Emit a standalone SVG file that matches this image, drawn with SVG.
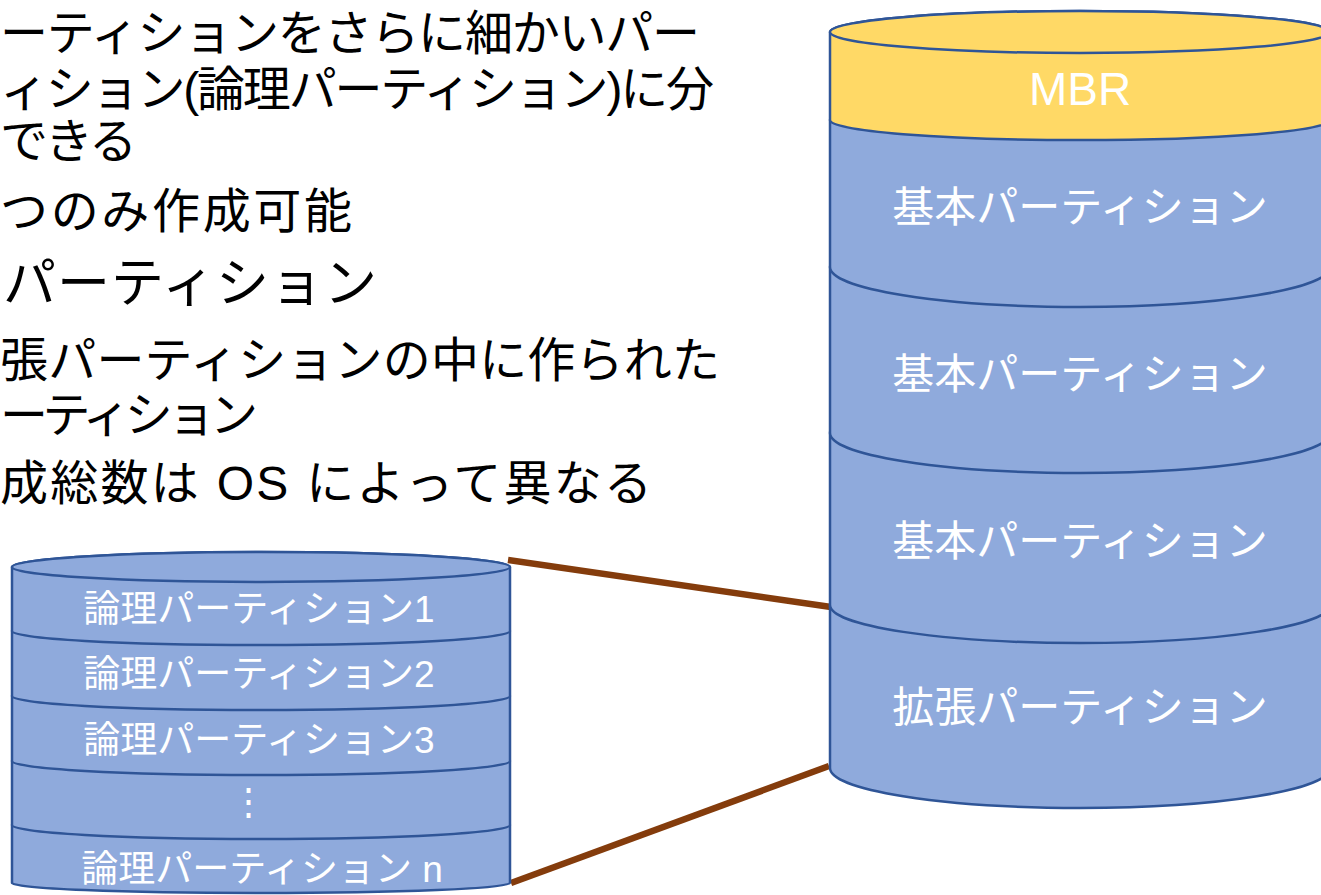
<svg xmlns="http://www.w3.org/2000/svg" width="1321" height="895" viewBox="0 0 1321 895">
<style>
.band{fill:#8FAADC;stroke:#2F5597;stroke-width:2.5;stroke-linejoin:round}
.mbr{fill:#FFD966;stroke:#2F5597;stroke-width:2.5}
.wt{fill:#FFFFFF;font-family:"Liberation Sans","Noto Sans CJK JP",sans-serif;text-anchor:middle}
.bt{fill:#000000;font-family:"Liberation Sans","Noto Sans CJK JP",sans-serif;font-size:48px}
.conn{stroke:#843C0C;stroke-width:6.5;fill:none}
</style>
<rect width="1321" height="895" fill="#FFFFFF"/>
<g id="bullets">
<text class="bt" x="0" y="50" textLength="700" lengthAdjust="spacing">ーティションをさらに細かいパー</text>
<text class="bt" x="0" y="106" textLength="714" lengthAdjust="spacing">ィション(論理パーティション)に分</text>
<text class="bt" x="0" y="158" textLength="137" lengthAdjust="spacing">できる</text>
<text class="bt" x="0" y="228" textLength="352" lengthAdjust="spacing">つのみ作成可能</text>
<text class="bt" x="3" y="302" style="font-size:53px" textLength="374" lengthAdjust="spacing">パーティション</text>
<text class="bt" x="0" y="377" textLength="720" lengthAdjust="spacing">張パーティションの中に作られた</text>
<text class="bt" x="0" y="432" textLength="258" lengthAdjust="spacing">ーティション</text>
<text class="bt" x="0" y="500" textLength="652" lengthAdjust="spacing">成総数は OS によって異なる</text>
</g>
<g id="connectors">
<line class="conn" x1="508" y1="560" x2="831" y2="607"/>
<line class="conn" x1="511" y1="883" x2="829" y2="766"/>
</g>
<g id="disk">
<g id="extended">
<path class="band" d="M830,605 L830,768 A250,40 0 0 0 1330,768 L1330,605 A250,40 0 0 0 830,605 Z"/>
<text class="wt" x="1080" y="722" font-size="42">拡張パーティション</text>
</g>
<g id="basic3">
<path class="band" d="M830,433 L830,605 A250,38 0 0 0 1330,605 L1330,433 A250,40 0 0 0 830,433 Z"/>
<text class="wt" x="1080" y="556" font-size="42">基本パーティション</text>
</g>
<g id="basic2">
<path class="band" d="M830,267 L830,433 A250,40 0 0 0 1330,433 L1330,267 A250,40 0 0 0 830,267 Z"/>
<text class="wt" x="1080" y="389" font-size="42">基本パーティション</text>
</g>
<g id="basic1">
<path class="band" d="M830,120 L830,267 A250,40 0 0 0 1330,267 L1330,120 A250,20 0 0 0 830,120 Z"/>
<text class="wt" x="1080" y="222" font-size="42">基本パーティション</text>
</g>
<g id="mbr">
<path class="mbr" d="M830,32 L830,120 A250,20 0 0 0 1330,120 L1330,32 A250,21 0 0 0 830,32 Z"/>
<ellipse class="mbr" cx="1080" cy="32" rx="250" ry="21"/>
<text class="wt" x="1080" y="105" font-size="46">MBR</text>
</g>
</g>
<g id="logical">
<g id="logical-n">
<path class="band" d="M12,825 L12,883 A249,10 0 0 0 510,883 L510,825 A249,14 0 0 0 12,825 Z"/>
<text class="wt" x="262" y="882" font-size="37">論理パーティション n</text>
</g>
<g id="logical-dots">
<path class="band" d="M12,761 L12,825 A249,14 0 0 0 510,825 L510,761 A249,14 0 0 0 12,761 Z"/>
<text class="wt" x="248" y="814" font-size="37" font-family="Noto Sans CJK JP, sans-serif">⋮</text>
</g>
<g id="logical-3">
<path class="band" d="M12,696 L12,761 A249,14 0 0 0 510,761 L510,696 A249,14 0 0 0 12,696 Z"/>
<text class="wt" x="259" y="753" font-size="37">論理パーティション3</text>
</g>
<g id="logical-2">
<path class="band" d="M12,631 L12,696 A249,14 0 0 0 510,696 L510,631 A249,14 0 0 0 12,631 Z"/>
<text class="wt" x="259" y="687" font-size="37">論理パーティション2</text>
</g>
<g id="logical-1">
<path class="band" d="M12,567 L12,631 A249,14 0 0 0 510,631 L510,567 A249,15 0 0 0 12,567 Z"/>
<ellipse class="band" cx="261" cy="567" rx="249" ry="15"/>
<text class="wt" x="259" y="622" font-size="37">論理パーティション1</text>
</g>
</g>
</svg>
